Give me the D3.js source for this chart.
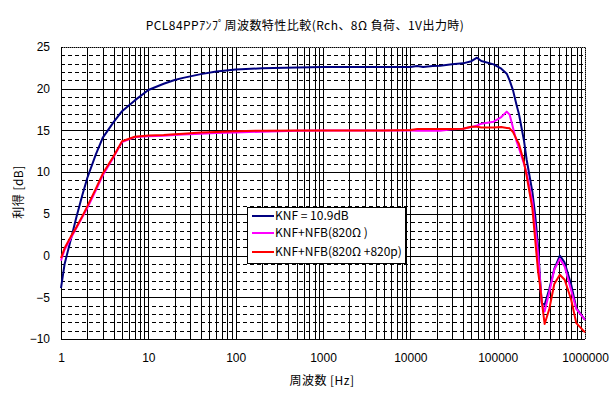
<!DOCTYPE html>
<html>
<head>
<meta charset="utf-8">
<script src="https://cdn.jsdelivr.net/npm/d3@7"></script>
<style>
  body { margin: 0; background: #fff; }
  svg { display: block; font-family: 'Noto Sans CJK JP', 'Noto Sans', sans-serif; }
</style>
</head>
<body>
<svg id="chart" width="615" height="397"></svg>
<script>
// measured frequencies [Hz]
const freqs = [1, 1.1, 1.3, 1.5, 1.75, 2, 2.5, 3, 4, 5, 7, 10, 15, 20, 25, 40, 60, 100, 200, 500,
  1000, 2000, 5000, 10000, 12000, 14000, 18000, 22000, 30000, 40000, 50000, 58000, 65000, 90000,
  110000, 127000, 137000, 150000, 165000, 175000, 200000, 215000, 250000, 270000, 290000, 305000,
  320000, 345000, 390000, 445000, 515000, 585000, 695000, 795000, 1000000]

// gain [dB]
const knf = [-3.9, -1.0, 2.0, 4.6, 7.2, 9.3, 12.1, 14.1, 16.0, 17.3, 18.6, 19.85, 20.6, 21.05, 21.3, 21.75, 22.05, 22.3, 22.45, 22.55,
  22.6, 22.6, 22.6, 22.6, 22.72, 22.6, 22.72, 22.76, 22.92, 23.04, 23.3, 23.72, 23.32, 22.92,
  22.4, 21.8, 21.0, 19.8, 18.0, 17.0, 13.8, 11.46, 7.6, 4.7, 1.1, -2.7,
  -5.7, -5.9, -4.0, -1.6, 0.0, -0.85, -3.5, -6.3, -7.7]

const knfNfb = [-0.6, 0.7, 2.1, 3.3, 4.6, 5.7, 7.8, 9.6, 11.8, 13.6, 14.2, 14.3, 14.35, 14.45, 14.5, 14.6, 14.7, 14.75, 14.85, 14.95,
  15.0, 15.0, 15.0, 15.0, 14.95, 14.95, 14.95, 14.95, 15.15, 15.2, 15.4, 15.6, 15.8, 16.05,
  16.6, 17.25, 16.9, 15.3, 13.65, 12.9, 11.0, 9.86, 6.4, 3.2, 0.3, -2.9,
  -5.7, -6.7, -4.4, -1.7, -0.4, -1.3, -4.2, -6.4, -7.7]

const knfNfbC = [-0.3, 0.9, 2.3, 3.4, 4.7, 5.9, 8.0, 9.8, 11.9, 13.7, 14.25, 14.4, 14.45, 14.55, 14.6, 14.75, 14.8, 14.9, 14.97, 15.0,
  15.0, 15.0, 15.0, 15.05, 15.17, 15.17, 15.17, 15.17, 15.17, 15.2, 15.45, 15.45, 15.35, 15.35,
  15.4, 15.3, 15.25, 14.8, 13.9, 13.4, 11.2, 9.5, 5.6, 1.7, -1.9, -3.5,
  -5.5, -8.2, -6.4, -3.4, -2.3, -2.9, -5.3, -8.1, -9.2]

const seriesNames = ['KNF = 10.9dB', 'KNF+NFB(820Ω )', 'KNF+NFB(820Ω +820p)']
const seriesColors = ['#000080', '#FF00FF', '#FF0000']
const xTicks = [1, 10, 100, 1000, 10000, 100000, 1000000]
const yTicks = [-10, -5, 0, 5, 10, 15, 20, 25]

const svg = d3.select('#chart')
const plotLeft = 61, plotRight = 585, plotTop = 47, plotBottom = 339

const x = d3.scaleLog().domain([1, 1e6]).range([plotLeft, plotRight])
const y = d3.scaleLinear().domain([-10, 25]).range([plotBottom, plotTop])

// title
svg.append('text')
  .attr('x', 305).attr('y', 30)
  .attr('text-anchor', 'middle')
  .attr('font-size', 12)
  .attr('letter-spacing', 0.45)
  .text('PCL84PPｱﾝﾌﾟ周波数特性比較(Rch、8Ω 負荷、1V出力時)')

const grid = svg.append('g').attr('shape-rendering', 'crispEdges')

// horizontal minor grid (dashed) every 1dB
grid.append('g')
  .attr('transform', `translate(${plotLeft},0)`)
  .call(d3.axisLeft(y).tickValues(d3.range(-9, 25)).tickSize(-(plotRight - plotLeft)).tickFormat(''))
  .call(g => g.select('.domain').remove())
  .selectAll('line').attr('stroke', '#000').attr('stroke-dasharray', '4,3')

// horizontal major grid every 5dB
grid.append('g')
  .attr('transform', `translate(${plotLeft},0)`)
  .call(d3.axisLeft(y).tickValues(yTicks).tickSize(-(plotRight - plotLeft)).tickFormat(''))
  .call(g => g.select('.domain').remove())
  .selectAll('line').attr('stroke', '#000')

// vertical grid, every 1..9 x decade
grid.append('g')
  .attr('transform', `translate(0,${plotBottom})`)
  .call(d3.axisBottom(x).tickValues(x.ticks()).tickSize(-(plotBottom - plotTop)).tickFormat(''))
  .call(g => g.select('.domain').remove())
  .selectAll('line').attr('stroke', '#000')

// plot area border (top/right dotted gray)
grid.append('path')
  .attr('d', `M${plotLeft},${plotTop}H${plotRight}V${plotBottom}`)
  .attr('fill', 'none').attr('stroke', '#808080').attr('stroke-dasharray', '1,1')

// axis lines
grid.append('path')
  .attr('d', `M${plotLeft},${plotTop}V${plotBottom}H${plotRight}`)
  .attr('fill', 'none').attr('stroke', '#000')

// tick labels
svg.append('g')
  .attr('transform', `translate(${plotLeft - 4},0)`)
  .call(d3.axisLeft(y).tickValues(yTicks).tickSize(0).tickPadding(7))
  .call(g => g.select('.domain').remove())
  .selectAll('text').attr('font-size', 12).attr('font-family', 'inherit').attr('fill', '#000')

svg.append('g')
  .attr('transform', `translate(0,${plotBottom})`)
  .call(d3.axisBottom(x).tickValues(xTicks).tickSize(0).tickPadding(14).tickFormat(d3.format('d')))
  .call(g => g.select('.domain').remove())
  .selectAll('text').attr('font-size', 12).attr('font-family', 'inherit').attr('fill', '#000')

// axis titles
svg.append('text')
  .attr('transform', 'translate(23,192) rotate(-90)')
  .attr('text-anchor', 'middle')
  .attr('font-size', 12)
  .attr('letter-spacing', 0.5)
  .text('利得  [dB]')

svg.append('text')
  .attr('x', 322).attr('y', 385)
  .attr('text-anchor', 'middle')
  .attr('font-size', 12)
  .attr('letter-spacing', 0.5)
  .text('周波数  [Hz]')

// curves
const line = d3.line()
  .x((d, i) => x(freqs[i]))
  .y(d => y(d))

const allSeries = [knf, knfNfb, knfNfbC]
svg.append('g')
  .selectAll('path')
  .data(allSeries)
  .enter()
  .append('path')
  .attr('d', d => line(d))
  .attr('fill', 'none')
  .attr('stroke', (d, i) => seriesColors[i])
  .attr('stroke-width', 2)
  .attr('stroke-linejoin', 'round')

// legend
const legend = svg.append('g').attr('transform', 'translate(247,207)')
legend.append('rect')
  .attr('x', 0.5).attr('y', 0.5)
  .attr('width', 158).attr('height', 56)
  .attr('fill', '#fff').attr('stroke', '#000')

const items = legend.selectAll('.item')
  .data(seriesNames)
  .enter()
  .append('g')
  .attr('transform', (d, i) => `translate(0,${[9, 26, 45][i]})`)

items.append('line')
  .attr('x1', 5).attr('x2', 27)
  .attr('stroke', (d, i) => seriesColors[i])
  .attr('stroke-width', 2)

items.append('text')
  .attr('x', 28).attr('y', 4)
  .attr('font-size', 12)
  .text(d => d)
</script>
</body>
</html>
